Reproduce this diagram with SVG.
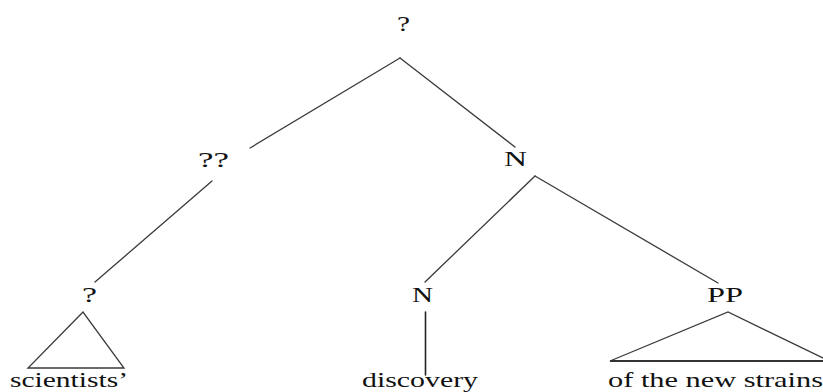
<svg xmlns="http://www.w3.org/2000/svg" width="823" height="392" viewBox="0 0 823 392">
<style>
.lbl{font-family:"Liberation Serif","Times New Roman",serif;font-size:21px;fill:#111;}
.edge{stroke:#3a3a3a;stroke-width:1.3;fill:none;stroke-linecap:round;}
</style>
<rect width="823" height="392" fill="#fff"/>
<g id="connectors">
<line class="edge" x1="400" y1="58" x2="250" y2="148"/>
<line class="edge" x1="400" y1="58" x2="515" y2="147"/>
<line class="edge" x1="212" y1="181" x2="95" y2="282"/>
<line class="edge" x1="535" y1="176" x2="425" y2="282"/>
<line class="edge" x1="535" y1="176" x2="718" y2="283"/>
<line class="edge" x1="425.5" y1="312" x2="425.5" y2="375" style="stroke-width:1.6;stroke:#222"/>
</g>
<g id="node-root"><text class="lbl" x="397" y="31" textLength="13" lengthAdjust="spacingAndGlyphs">?</text></g>
<g id="node-qq"><text class="lbl" x="198" y="167" textLength="31" lengthAdjust="spacingAndGlyphs">??</text></g>
<g id="node-n1"><text class="lbl" x="504" y="166" textLength="23" lengthAdjust="spacingAndGlyphs">N</text></g>
<g id="node-q"><text class="lbl" x="82" y="302" textLength="15" lengthAdjust="spacingAndGlyphs">?</text>
<polygon class="edge" points="83,312 28,368 124,368" stroke-linejoin="miter"/>
<text class="lbl" x="10" y="387" textLength="118" lengthAdjust="spacingAndGlyphs">scientists’</text></g>
<g id="node-n2"><text class="lbl" x="412" y="302" textLength="21" lengthAdjust="spacingAndGlyphs">N</text>
<text class="lbl" x="362" y="387" textLength="116" lengthAdjust="spacingAndGlyphs">discovery</text></g>
<g id="node-pp"><text class="lbl" x="707" y="302" textLength="36" lengthAdjust="spacingAndGlyphs">PP</text>
<polyline class="edge" points="829,361 728,312 610,361 829,361"/>
<line x1="610" y1="361" x2="823" y2="361" stroke="#333" stroke-width="2"/>
<text class="lbl" x="608" y="387" textLength="215" lengthAdjust="spacingAndGlyphs">of the new strains</text></g>
</svg>
